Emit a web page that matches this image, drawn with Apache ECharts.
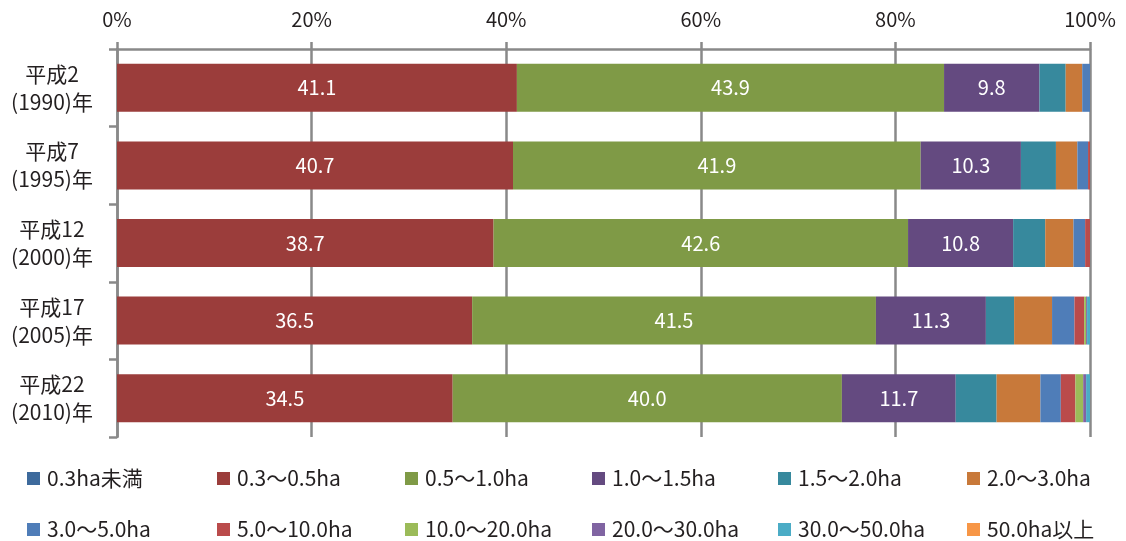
<!DOCTYPE html>
<html>
<head>
<meta charset="utf-8">
<script src="https://cdn.jsdelivr.net/npm/echarts@6/dist/echarts.min.js"></script>
<style>
  html, body { margin: 0; padding: 0; background: #ffffff; }
  #chart { width: 1126px; height: 541px; }
</style>
</head>
<body>
<div id="chart"></div>
<script>
// Farm households by cultivated area class (share, %)
const categories = ['平成2\n(1990)年', '平成7\n(1995)年', '平成12\n(2000)年', '平成17\n(2005)年', '平成22\n(2010)年'];
const seriesNames = ['0.3ha未満', '0.3～0.5ha', '0.5～1.0ha', '1.0～1.5ha', '1.5～2.0ha', '2.0～3.0ha',
                     '3.0～5.0ha', '5.0～10.0ha', '10.0～20.0ha', '20.0～30.0ha', '30.0～50.0ha', '50.0ha以上'];
const under03   = [0, 0, 0, 0, 0];
const s03to05   = [41.1, 40.7, 38.7, 36.5, 34.5];
const s05to10   = [43.9, 41.9, 42.6, 41.5, 40.0];
const s10to15   = [9.8, 10.3, 10.8, 11.3, 11.7];
const s15to20   = [2.7, 3.6, 3.3, 2.9, 4.2];
const s20to30   = [1.7, 2.2, 2.9, 3.9, 4.5];
const s30to50   = [0.8, 1.1, 1.2, 2.3, 2.1];
const s50to100  = [0, 0.2, 0.5, 1.0, 1.5];
const s100to200 = [0, 0, 0, 0.2, 0.8];
const s200to300 = [0, 0, 0, 0.1, 0.3];
const s300to500 = [0, 0, 0, 0.3, 0.4];
const over500   = [0, 0, 0, 0, 0];
const xTicks = [0, 20, 40, 60, 80, 100];

const seriesData = [under03, s03to05, s05to10, s10to15, s15to20, s20to30,
                    s30to50, s50to100, s100to200, s200to300, s300to500, over500];
const colors = ['#3D6A9C', '#9B3D3B', '#7F9A46', '#644A80', '#37899D', '#C8793A',
                '#4F7DB8', '#BA4B4B', '#9BBB59', '#8064A2', '#4BACC6', '#F79646'];
const labelled = new Set([1, 2, 3]);

const FONT = '"Noto Sans CJK JP", "Noto Sans", sans-serif';
const TEXT = '#231F20';
const AXIS = '#898989';

const series = seriesData.map((vals, i) => ({
  name: seriesNames[i],
  type: 'bar',
  stack: 'share',
  barWidth: 48,
  data: vals,
  itemStyle: { color: colors[i] },
  label: {
    show: labelled.has(i),
    position: 'inside',
    color: '#ffffff',
    fontFamily: FONT,
    fontSize: 20,
    formatter: p => p.value.toFixed(1)
  },
  emphasis: { disabled: true }
}));

// Legend: one entry per box so the six columns line up in two rows
const colLeft = [22, 212, 400, 587, 773, 962];
const rowTop = [463, 514];
const legends = seriesNames.map((name, i) => ({
  left: colLeft[i % 6],
  top: rowTop[Math.floor(i / 6)],
  itemWidth: 13,
  itemHeight: 13,
  icon: 'rect',
  selectedMode: false,
  data: [name],
  textStyle: { fontFamily: FONT, fontSize: 21, color: TEXT, lineHeight: 21, padding: [0, 0, 0, 2] }
}));

const chart = echarts.init(document.getElementById('chart'));
chart.setOption({
  animation: false,
  backgroundColor: '#ffffff',
  color: colors,
  grid: { left: 117, right: 36, top: 49, bottom: 104, containLabel: false },
  legend: legends,
  xAxis: {
    type: 'value',
    position: 'top',
    min: xTicks[0],
    max: xTicks[xTicks.length - 1],
    interval: xTicks[1] - xTicks[0],
    axisLine: { show: true, lineStyle: { color: AXIS, width: 2.5 } },
    axisTick: { show: true, length: 7, lineStyle: { color: AXIS, width: 2.5 } },
    splitLine: { show: true, lineStyle: { color: AXIS, width: 2.5 } },
    axisLabel: {
      formatter: '{value}%',
      fontFamily: FONT, fontSize: 20, color: TEXT, margin: 20
    }
  },
  yAxis: {
    type: 'category',
    inverse: true,
    data: categories,
    axisLine: { show: true, lineStyle: { color: AXIS, width: 2.5 } },
    axisTick: { show: true, length: 8, lineStyle: { color: AXIS, width: 2.5 } },
    axisLabel: {
      fontFamily: FONT, fontSize: 21, color: TEXT,
      align: 'center', lineHeight: 28, margin: 65
    }
  },
  series: series
});
</script>
</body>
</html>
